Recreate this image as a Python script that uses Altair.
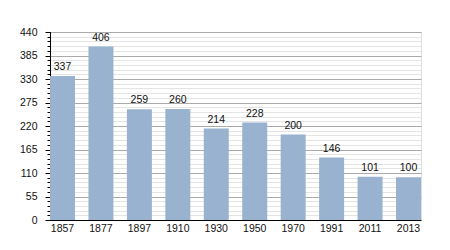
import altair as alt
import pandas as pd

years = ["1857", "1877", "1897", "1910", "1930", "1950", "1970", "1991", "2011", "2013"]
population = [337, 406, 259, 260, 214, 228, 200, 146, 101, 100]
major_ticks = [0, 55, 110, 165, 220, 275, 330, 385, 440]
minor_ticks = list(range(0, 441, 11))

df = pd.DataFrame({"year": years, "pop": population})

FONT = "Liberation Sans"
FS = 10.5

yscale = alt.Scale(domain=[0, 440], nice=False, zero=True)
xscale = alt.Scale(paddingInner=0.35, paddingOuter=0)
xaxis = alt.Axis(ticks=False, labelAngle=0, labelFont=FONT, labelFontSize=FS, grid=False,
                 labelColor="#111", domainColor="#000", labelPadding=3)
xenc = alt.X("year:N", sort=years, title=None, scale=xscale, axis=xaxis)

minor = alt.Chart(df).mark_bar(opacity=0).encode(
    x=xenc,
    y=alt.Y("pop:Q", scale=yscale, title=None,
            axis=alt.Axis(values=minor_ticks, labels=False, grid=True, gridColor="#e4e4e4",
                          gridWidth=1, tickSize=3, tickColor="#000", domain=False, orient="left"))
)

bars = alt.Chart(df).mark_bar(color="#98b2cf").encode(
    x=xenc,
    y=alt.Y("pop:Q", scale=yscale, title=None,
            axis=alt.Axis(values=major_ticks, grid=True, gridColor="#aaaaaa", gridWidth=1,
                          tickSize=5, tickColor="#000", domainColor="#000",
                          labelFont=FONT, labelFontSize=FS, labelColor="#111",
                          labelPadding=8, orient="left"))
)

labels = alt.Chart(df).mark_text(baseline="bottom", dy=-4, font=FONT, fontSize=FS, color="#111").encode(
    x=xenc,
    y=alt.Y("pop:Q", scale=yscale, axis=None),
    text="pop:Q",
)

chart = alt.layer(minor, bars, labels).resolve_axis(y="independent").properties(
    width=371, height=188,
    autosize=alt.AutoSizeParams(type="none"),
    padding={"left": 50, "top": 32, "right": 29, "bottom": 30},
).configure_view(stroke=None, strokeWidth=0).configure(background="white")

chart.save("out.html", embed_options={"renderer": "svg", "actions": False})
